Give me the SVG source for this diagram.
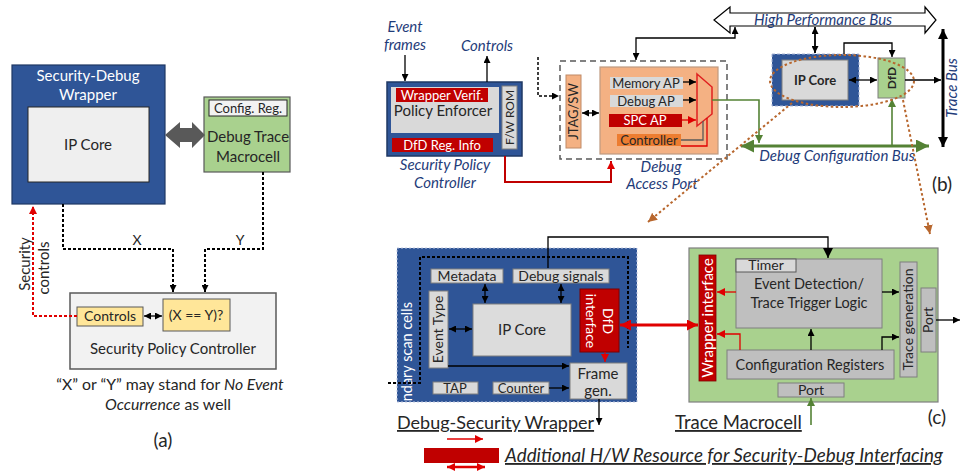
<svg xmlns="http://www.w3.org/2000/svg" width="961" height="472" viewBox="0 0 961 472">
<style>
text { font-family: Lato, "Open Sans", "DejaVu Sans", sans-serif; fill: #262626; }
.c { text-anchor: middle; }
.it { font-style: italic; fill: #1f3c7a; }
.w { fill: #ffffff; }
.g { fill: #d9d9d9; stroke: #7f7f7f; stroke-width: 1; }
.g2 { fill: #bfbfbf; stroke: #7f7f7f; stroke-width: 1; }
.rd { fill: #c00000; }
.ln { fill: none; stroke: #000; stroke-width: 1.3; }
.lnr { fill: none; stroke: #e00000; stroke-width: 1.3; }
.dash { fill: none; stroke: #000; stroke-width: 2; stroke-dasharray: 3 2; }
.brown { fill: none; stroke: #b8672e; stroke-width: 2; stroke-dasharray: 2.5 2.5; }
.grn { fill: none; stroke: #548235; stroke-width: 1.6; }
</style>
<defs>
  <marker id="ak" viewBox="0 0 10 10" refX="10" refY="5" markerWidth="7" markerHeight="7" markerUnits="userSpaceOnUse" orient="auto-start-reverse"><path d="M0,0 L10,5 L0,10 z" fill="#000"/></marker>
  <marker id="akL" viewBox="0 0 10 10" refX="10" refY="5" markerWidth="10" markerHeight="10" markerUnits="userSpaceOnUse" orient="auto-start-reverse"><path d="M0,0 L10,5 L0,10 z" fill="#000"/></marker>
  <marker id="ar" viewBox="0 0 10 10" refX="10" refY="5" markerWidth="8" markerHeight="8" markerUnits="userSpaceOnUse" orient="auto-start-reverse"><path d="M0,0 L10,5 L0,10 z" fill="#e00000"/></marker>
  <marker id="arL" viewBox="0 0 10 10" refX="10" refY="5" markerWidth="11" markerHeight="11" markerUnits="userSpaceOnUse" orient="auto-start-reverse"><path d="M0,0 L10,5 L0,10 z" fill="#e00000"/></marker>
  <marker id="ag" viewBox="0 0 10 10" refX="10" refY="5" markerWidth="8" markerHeight="8" markerUnits="userSpaceOnUse" orient="auto-start-reverse"><path d="M0,0 L10,5 L0,10 z" fill="#548235"/></marker>
  <marker id="agL" viewBox="0 0 10 10" refX="10" refY="5" markerWidth="13" markerHeight="13" markerUnits="userSpaceOnUse" orient="auto-start-reverse"><path d="M0,0 L10,5 L0,10 z" fill="#548235"/></marker>
  <marker id="ab" viewBox="0 0 10 10" refX="10" refY="5" markerWidth="9" markerHeight="9" markerUnits="userSpaceOnUse" orient="auto"><path d="M0,0 L10,5 L0,10 z" fill="#b8672e"/></marker>
  <clipPath id="wrapClip"><rect x="397" y="248" width="240" height="154"/></clipPath>
</defs>

<!-- ===== (a) overview ===== -->
<g id="a-wrapper">
  <rect x="12" y="65" width="153" height="139" fill="#2f5597" stroke="#1f3864" stroke-width="1.2"/>
  <text class="c w" x="88" y="81" font-size="15">Security-Debug</text>
  <text class="c w" x="88" y="100" font-size="15">Wrapper</text>
</g>
<g id="a-ipcore">
  <rect x="28" y="107" width="121" height="75" fill="#efefef" stroke="#262626" stroke-width="1"/>
  <text class="c" x="88" y="150" font-size="15">IP Core</text>
</g>
<g id="a-macrocell">
  <rect x="204" y="97" width="86" height="75" fill="#a9d18e" stroke="#595959" stroke-width="1.2"/>
  <rect x="209" y="100" width="78" height="16" fill="#f2f2f2" stroke="#262626" stroke-width="1"/>
  <text class="c" x="248" y="113" font-size="13">Config. Reg.</text>
  <text class="c" x="248" y="142" font-size="15">Debug Trace</text>
  <text class="c" x="248" y="162" font-size="15">Macrocell</text>
</g>
<g id="a-spc">
  <rect x="70" y="293" width="206" height="76" fill="#f2f2f2" stroke="#595959" stroke-width="1.5"/>
  <text class="c" x="173" y="354" font-size="15">Security Policy Controller</text>
</g>
<g id="a-controls">
  <rect x="77" y="307" width="66" height="19" fill="#ffe699" stroke="#595959" stroke-width="1"/>
  <text class="c" x="110" y="321" font-size="14">Controls</text>
</g>
<g id="a-compare">
  <rect x="163" y="299" width="67" height="32" fill="#ffe699" stroke="#595959" stroke-width="1"/>
  <text class="c" x="196" y="320" font-size="14">(X == Y)?</text>
</g>
<g id="a-connectors">
  <polygon points="165,135 180,122 180,128 192,128 192,122 205,135 192,148 192,142 180,142 180,148" fill="#595959"/>
  <path class="dash" d="M63,204 V249 H173 V292" marker-end="url(#ak)"/>
  <path class="dash" d="M263,172 V249 H205 V292" marker-end="url(#ak)"/>
  <line class="ln" x1="144" y1="316" x2="162" y2="316" marker-start="url(#ak)" marker-end="url(#ak)"/>
  <path fill="none" stroke="#e00000" stroke-width="2" stroke-dasharray="3 2" d="M77,316 H33 V206" marker-end="url(#ar)"/>
  <text class="c" x="137" y="245" font-size="14">X</text>
  <text class="c" x="240" y="245" font-size="14">Y</text>
  <text class="c" font-size="15" transform="translate(30,264) rotate(-90)">Security</text>
  <text class="c" font-size="15" transform="translate(49,268) rotate(-90)">controls</text>
</g>
<text class="c" x="170" y="390" font-size="15.8">“X” or “Y” may stand for <tspan font-style="italic">No Event</tspan></text>
<text class="c" x="168" y="410" font-size="15.8"><tspan font-style="italic">Occurrence</tspan> as well</text>
<text class="c" x="163" y="447" font-size="19">(a)</text>

<!-- ===== (b) SoC debug infrastructure ===== -->
<g id="b-spc">
  <rect x="387" y="82" width="135" height="74" fill="#2f5597" stroke="#1f3864" stroke-width="1.5"/>
  <rect x="391" y="87" width="108" height="46" fill="#d9d9d9"/>
  <rect class="rd" x="396" y="88" width="92" height="14"/>
  <text class="c w" x="442" y="99.5" font-size="13">Wrapper Verif.</text>
  <text class="c" x="443" y="116" font-size="15">Policy Enforcer</text>
  <rect class="rd" x="392" y="138" width="101" height="14"/>
  <text class="c w" x="442" y="149.5" font-size="13">DfD Reg. Info</text>
  <rect class="g" x="502" y="86" width="15" height="63"/>
  <text class="c" font-size="12" transform="translate(514,117.5) rotate(-90)">F/W ROM</text>
  <text class="c it" x="445" y="170" font-size="15">Security Policy</text>
  <text class="c it" x="445" y="188" font-size="15">Controller</text>
</g>
<g id="b-labels">
  <text class="c it" x="405" y="32" font-size="15">Event</text>
  <text class="c it" x="405" y="50" font-size="15">frames</text>
  <text class="c it" x="487" y="51" font-size="15">Controls</text>
</g>
<g id="b-dap">
  <rect x="560" y="61" width="167" height="98" fill="none" stroke="#595959" stroke-width="1.5" stroke-dasharray="6 4"/>
  <rect x="566" y="75" width="15" height="73" fill="#f4b183" stroke="#c08a66" stroke-width="1"/>
  <text class="c" font-size="13" transform="translate(578,111.5) rotate(-90)">JTAG/SW</text>
  <rect x="600" y="67" width="118" height="87" fill="#f4b183" stroke="#bf9a80" stroke-width="1.2"/>
  <rect x="610" y="77" width="73" height="12" fill="#d9d9d9"/>
  <text class="c" x="646" y="87.5" font-size="13">Memory AP</text>
  <rect x="610" y="95" width="73" height="12" fill="#d9d9d9"/>
  <text class="c" x="646" y="105.5" font-size="13">Debug AP</text>
  <rect class="rd" x="609" y="114" width="73" height="13"/>
  <text class="c w" x="645" y="125" font-size="13">SPC AP</text>
  <rect x="617" y="134" width="64" height="12" fill="#ed7d31"/>
  <text class="c" x="649" y="144.5" font-size="13">Controller</text>
  <polygon points="697,74 712,87 712,114 697,126" fill="none" stroke="#e02020" stroke-width="1.5"/>
  <text class="c it" x="661" y="172" font-size="15">Debug</text>
  <text class="c it" x="662" y="189" font-size="15">Access Port</text>
</g>
<g id="b-hpbus">
  <polygon points="714,20 730,7 730,13 925,13 925,7 936,20 925,33 925,26 730,26 730,33" fill="#ffffff" stroke="#000" stroke-width="1.2"/>
  <text class="c it" x="823" y="24.5" font-size="15">High Performance Bus</text>
</g>
<g id="b-ipcore">
  <rect x="772" y="54" width="87" height="52" fill="#2f5597" stroke="#aab6d6" stroke-width="1" stroke-dasharray="3 2"/>
  <rect x="782" y="60" width="66" height="40" fill="#d9d9d9" stroke="#7f7f7f" stroke-width="1"/>
  <text class="c" x="815" y="85" font-size="13" font-weight="bold">IP Core</text>
</g>
<g id="b-dfd">
  <rect x="878" y="58" width="27" height="40" fill="#a9d18e" stroke="#7f7f7f" stroke-width="1"/>
  <text class="c" font-size="12" font-weight="bold" transform="translate(896,78) rotate(-90)">DfD</text>
</g>
<g id="b-buses">
  <text class="c it" x="837" y="160.5" font-size="15">Debug Configuration Bus</text>
  <text class="c it" font-size="15" transform="translate(957,88) rotate(-90)">Trace Bus</text>
  <text class="c" x="942" y="191" font-size="19">(b)</text>
</g>
<g id="b-connectors">
  <line class="ln" x1="405" y1="55" x2="405" y2="81" marker-end="url(#ak)"/>
  <line class="ln" x1="487" y1="82" x2="487" y2="56" marker-end="url(#ak)"/>
  <path fill="none" stroke="#c00000" stroke-width="2" d="M505,156 V182 H611 V161" marker-end="url(#ar)"/>
  <path fill="none" stroke="#000" stroke-width="1.5" stroke-dasharray="3 2" d="M538,57 V96 H559" marker-end="url(#ak)"/>
  <line class="ln" x1="582" y1="113" x2="599" y2="113" marker-start="url(#ak)" marker-end="url(#ak)"/>
  <line class="ln" x1="683" y1="82" x2="696" y2="82" marker-end="url(#ak)"/>
  <line class="ln" x1="683" y1="100" x2="696" y2="100" marker-end="url(#ak)"/>
  <line class="lnr" x1="682" y1="120" x2="696" y2="120" marker-end="url(#ar)"/>
  <path fill="none" stroke="#595959" stroke-width="1.3" d="M681,140 H703 V121"/>
  <path class="lnr" d="M681,146 H707 V118"/>
  <path class="grn" d="M712,100 H759 V143" marker-end="url(#ag)"/>
  <line x1="741" y1="146" x2="929" y2="146" stroke="#548235" stroke-width="3" marker-start="url(#agL)" marker-end="url(#agL)"/>
  <line class="grn" x1="892" y1="146" x2="892" y2="99" marker-end="url(#ag)"/>
  <path class="ln" d="M636,60 V38 H735 V27" marker-start="url(#ak)" marker-end="url(#ak)"/>
  <line x1="815" y1="27" x2="815" y2="53" stroke="#000" stroke-width="1.8" marker-start="url(#ak)" marker-end="url(#ak)"/>
  <path class="ln" d="M844,54 V43 H892 V57" marker-end="url(#ak)"/>
  <line class="ln" x1="849" y1="80" x2="877" y2="80" marker-start="url(#ak)" marker-end="url(#ak)"/>
  <line x1="905" y1="80" x2="941" y2="80" stroke="#000" stroke-width="1.5" marker-end="url(#ak)"/>
  <line x1="943" y1="29" x2="943" y2="147" stroke="#000" stroke-width="3" marker-start="url(#akL)" marker-end="url(#akL)"/>
  <ellipse class="brown" cx="842" cy="81" rx="72" ry="26"/>
  <line class="brown" x1="792" y1="103" x2="648" y2="222" marker-end="url(#ab)"/>
  <line class="brown" x1="903" y1="100" x2="930" y2="234" marker-end="url(#ab)"/>
</g>

<!-- ===== (c) debug-security wrapper and trace macrocell ===== -->
<g id="c-wrapper">
  <rect x="397" y="248" width="240" height="154" fill="#2f5597" stroke="#c0c8e0" stroke-width="1" stroke-dasharray="2 2"/>
  <g clip-path="url(#wrapClip)">
    <text class="w" font-size="14.5" text-anchor="end" transform="translate(412,302) rotate(-90)">undary scan cells</text>
  </g>
  <path class="dash" stroke-width="1.5" d="M388,383 H420 V257 H628 V348"/>
</g>
<g id="c-metadata">
  <rect class="g" x="431" y="269" width="72" height="14"/>
  <text class="c" x="467" y="281" font-size="14">Metadata</text>
</g>
<g id="c-debugsignals">
  <rect class="g" x="513" y="269" width="96" height="14"/>
  <text class="c" x="561" y="281" font-size="14">Debug signals</text>
</g>
<g id="c-eventtype">
  <rect class="g" x="429" y="291" width="19" height="77"/>
  <text class="c" font-size="14" transform="translate(443,329.5) rotate(-90)">Event Type</text>
</g>
<g id="c-ipcore">
  <rect x="473" y="304" width="98" height="52" fill="#dcdcdc" stroke="#7f7f7f" stroke-width="1"/>
  <text class="c" x="522" y="335" font-size="15">IP Core</text>
</g>
<g id="c-dfdinterface">
  <rect x="580" y="289" width="39" height="63" fill="#c00000" stroke="#7f0000" stroke-width="1"/>
  <text class="c w" font-size="14" transform="translate(599.5,321) rotate(90)"><tspan x="0" y="-3">DfD</tspan><tspan x="0" y="14">interface</tspan></text>
</g>
<g id="c-framegen">
  <rect class="g" x="570" y="363" width="57" height="36"/>
  <text class="c" x="598" y="379" font-size="15">Frame</text>
  <text class="c" x="598" y="396" font-size="15">gen.</text>
</g>
<g id="c-tap">
  <rect class="g" x="433" y="382" width="45" height="12"/>
  <text class="c" x="455" y="393" font-size="13">TAP</text>
</g>
<g id="c-counter">
  <rect class="g" x="493" y="382" width="56" height="12"/>
  <text class="c" x="521" y="393" font-size="13">Counter</text>
</g>
<g id="c-macrocell">
  <rect x="689" y="248" width="249" height="154" fill="#a9d18e" stroke="#7f7f7f" stroke-width="1.2"/>
</g>
<g id="c-wrapperinterface">
  <rect x="699" y="255" width="17" height="126" fill="#c00000" stroke="#7f0000" stroke-width="0.8"/>
  <text class="c w" font-size="15" transform="translate(713,318) rotate(-90)">Wrapper interface</text>
</g>
<g id="c-eventdetection">
  <rect class="g2" x="736" y="259" width="146" height="69"/>
  <rect x="736" y="259" width="60" height="13" fill="#d9d9d9" stroke="#595959" stroke-width="1"/>
  <text class="c" x="766" y="270" font-size="14">Timer</text>
  <text class="c" x="809" y="289" font-size="14.5">Event Detection/</text>
  <text class="c" x="809" y="308" font-size="14.5">Trace Trigger Logic</text>
</g>
<g id="c-configregs">
  <rect class="g2" x="727" y="350" width="167" height="29"/>
  <text class="c" x="810" y="370" font-size="14.5">Configuration Registers</text>
</g>
<g id="c-tracegen">
  <rect class="g2" x="900" y="262" width="17" height="115"/>
  <text class="c" font-size="14" transform="translate(913,319.5) rotate(-90)">Trace generation</text>
</g>
<g id="c-traceport">
  <rect class="g2" x="921" y="288" width="15" height="64"/>
  <text class="c" font-size="14" transform="translate(933,320) rotate(-90)">Port</text>
</g>
<g id="c-configport">
  <rect class="g2" x="778" y="383" width="66" height="14"/>
  <text class="c" x="811" y="395" font-size="14">Port</text>
</g>
<g id="c-connectors">
  <line class="ln" x1="485" y1="284" x2="485" y2="303" stroke-width="1.5" marker-start="url(#ak)" marker-end="url(#ak)"/>
  <line class="ln" x1="561" y1="284" x2="561" y2="303" stroke-width="1.5" marker-start="url(#ak)" marker-end="url(#ak)"/>
  <line class="ln" x1="449" y1="329" x2="472" y2="329" stroke-width="1.5" marker-start="url(#ak)" marker-end="url(#ak)"/>
  <path class="ln" stroke-width="2" d="M448,366 H569" marker-end="url(#ak)"/>
  <line class="lnr" stroke-width="1.5" x1="605" y1="352" x2="605" y2="362" marker-end="url(#ar)"/>
  <line class="ln" stroke-width="2" x1="549" y1="388" x2="569" y2="388" marker-end="url(#ak)"/>
  <line class="ln" stroke-width="1.5" x1="599" y1="399" x2="599" y2="425" marker-end="url(#ak)"/>
  <path class="ln" stroke-width="2.5" d="M548,268 V237 H828 V258" marker-end="url(#akL)"/>
  <line x1="620" y1="325" x2="698" y2="325" stroke="#e00000" stroke-width="3" marker-start="url(#arL)" marker-end="url(#arL)"/>
  <line class="lnr" stroke-width="1.5" x1="736" y1="292" x2="717" y2="292" marker-end="url(#ar)"/>
  <path class="lnr" stroke-width="1.5" d="M740,350 V334 H717" marker-end="url(#ar)"/>
  <line class="ln" stroke-width="1.5" x1="811" y1="350" x2="811" y2="329" marker-end="url(#ak)"/>
  <line class="ln" stroke-width="1.5" x1="882" y1="292" x2="899" y2="292" marker-end="url(#ak)"/>
  <path class="ln" stroke-width="1.5" d="M882,350 V337 H899" marker-end="url(#ak)"/>
  <line class="ln" stroke-width="1.5" x1="936" y1="320" x2="960" y2="320" marker-end="url(#ak)"/>
  <line class="grn" x1="811" y1="425" x2="811" y2="398" marker-end="url(#ag)"/>
</g>
<g id="c-captions">
  <text x="397" y="429" font-size="18" text-decoration="underline">Debug-Security Wrapper</text>
  <text x="675" y="429" font-size="18.5" text-decoration="underline">Trace Macrocell</text>
  <text class="c" x="937" y="424" font-size="19">(c)</text>
</g>
<g id="legend">
  <line x1="447" y1="439" x2="483" y2="439" stroke="#e00000" stroke-width="1.5" marker-end="url(#ar)"/>
  <rect x="424" y="448" width="75" height="15" fill="#c00000"/>
  <line x1="447" y1="467" x2="485" y2="467" stroke="#e00000" stroke-width="2.5" marker-start="url(#ar)" marker-end="url(#ar)"/>
  <text x="505" y="462" font-size="18.5" font-style="italic" text-decoration="underline" textLength="438" lengthAdjust="spacingAndGlyphs">Additional H/W Resource for Security-Debug Interfacing</text>
</g>
</svg>
